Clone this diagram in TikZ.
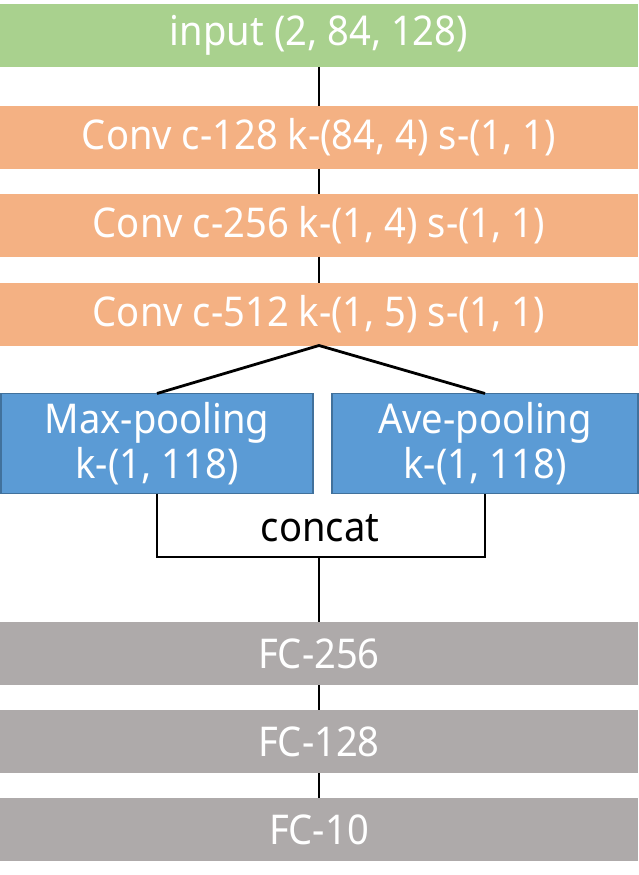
\documentclass[tikz,border=0pt]{standalone}
\usepackage{fontspec}
\setmainfont[FakeStretch=0.93]{Noto Sans}
\usetikzlibrary{positioning}

\definecolor{inputgreen}{HTML}{A9D18E}
\definecolor{convorange}{HTML}{F4B183}
\definecolor{poolblue}{HTML}{5B9BD5}
\definecolor{pooledge}{HTML}{41719C}
\definecolor{fcgray}{HTML}{AEAAAA}

\tikzset{
  layer/.style={minimum width=638, minimum height=63, inner sep=0pt, outer sep=0pt,
    text=white, font=\fontsize{41}{46}\selectfont},
  poolbox/.style={layer, fill=poolblue, draw=pooledge, line width=1.2,
    minimum height=100, align=center, font=\fontsize{41}{45}\selectfont},
  link/.style={line width=2.8, black}
}

\begin{document}
\begin{tikzpicture}[x=1pt, y=-1pt]
  \useasboundingbox (0,0) rectangle (639,875);

  % input and conv layers
  \node[layer, fill=inputgreen] (input) at (319,35.5) {input (2, 84, 128)};
  \node[layer, fill=convorange] (conv1) at (319,137) {Conv c-128 k-(84, 4) s-(1, 1)};
  \node[layer, fill=convorange] (conv2) at (319,225) {Conv c-256 k-(1, 4) s-(1, 1)};
  \node[layer, fill=convorange] (conv3) at (319,314) {Conv c-512 k-(1, 5) s-(1, 1)};

  % pooling branches
  \node[poolbox, minimum width=312] (maxpool) at (157,443.5) {Max-pooling\\k-(1, 118)};
  \node[poolbox, minimum width=306] (avepool) at (485,443.5) {Ave-pooling\\k-(1, 118)};
  \coordinate (join) at (319,557);
  \node[font=\fontsize{41}{46}\selectfont] (concat) at (320,528) {concat};

  % fully connected layers
  \node[layer, fill=fcgray] (fc256) at (319,653.5) {FC-256};
  \node[layer, fill=fcgray] (fc128) at (319,741.5) {FC-128};
  \node[layer, fill=fcgray] (fc10) at (319,829.5) {FC-10};

  % connectors
  \draw[link] (input) -- (conv1);
  \draw[link] (conv1) -- (conv2);
  \draw[link] (conv2) -- (conv3);
  \draw[link] (maxpool.north) -- (conv3.south) -- (avepool.north);
  \draw[link] (maxpool.south) |- (join) -| (avepool.south);
  \draw[link] (join) -- (fc256);
  \draw[link] (fc256) -- (fc128);
  \draw[link] (fc128) -- (fc10);
\end{tikzpicture}
\end{document}
